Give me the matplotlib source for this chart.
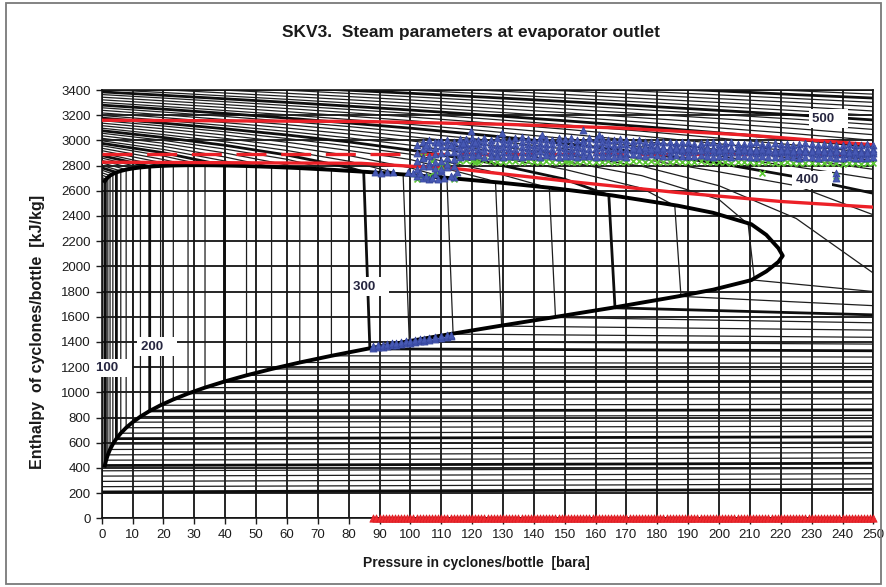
import numpy as np
import matplotlib
matplotlib.use("Agg")
import matplotlib.pyplot as plt
from matplotlib.patches import Rectangle

# ---------------- steam property data (pressure in bar, enthalpy in kJ/kg) ----------------
P_COLS = [0, 20, 40, 60, 80, 100, 125, 150, 175, 200, 225, 250]

iso_T = [100, 110, 120, 130, 140, 150, 160, 170, 180, 190, 200, 210, 220, 230, 240,
         250, 260, 270, 280, 290, 300, 310, 320, 330, 340, 350, 360, 370,
         380, 390, 400, 410, 420, 430, 440, 450, 460, 470, 480, 490, 500,
         510, 520, 530, 540, 550, 560, 570]

# superheated / supercritical enthalpy along each isotherm at P_COLS
sh_rows = [
    [2687], [2706], [2725], [2744], [2764], [2783], [2802], [2822], [2841], [2860],
    [2880], [2899],
    [2919, 2821], [2938, 2848], [2958, 2876], [2977, 2902],
    [2997, 2928, 2836], [3017, 2953, 2868],
    [3037, 2977, 2900, 2805], [3057, 3000, 2931, 2850],
    [3077, 3023, 2961, 2884, 2785], [3097, 3046, 2989, 2920, 2835],
    [3117, 3069, 3016, 2953, 2880, 2782],
    [3137, 3092, 3042, 2985, 2920, 2848, 2690],
    [3157, 3114, 3068, 3015, 2955, 2890, 2760],
    [3177, 3137, 3092, 3043, 2988, 2923, 2826, 2692],
    [3198, 3159, 3117, 3071, 3020, 2962, 2878, 2770, 2620],
    [3218, 3181, 3141, 3098, 3051, 2997, 2922, 2834, 2720, 2530],
    [3239, 3203, 3165, 3125, 3081, 3030, 2963, 2886, 2795, 2640, 2380, 1946],
    [3259, 3225, 3190, 3151, 3110, 3063, 3002, 2932, 2853, 2750, 2640, 2409],
    [3280, 3248, 3214, 3177, 3138, 3097, 3039, 2976, 2903, 2818, 2710, 2580],
    [3301, 3270, 3237, 3203, 3166, 3127, 3074, 3015, 2949, 2875, 2790, 2695],
    [3322, 3292, 3261, 3228, 3193, 3157, 3107, 3053, 2993, 2926, 2855, 2770],
    [3343, 3314, 3284, 3253, 3220, 3186, 3139, 3089, 3034, 2973, 2912, 2840],
    [3364, 3336, 3307, 3277, 3246, 3214, 3170, 3123, 3073, 3018, 2962, 2900],
    [3385, 3358, 3330, 3302, 3272, 3241, 3200, 3156, 3110, 3060, 3008, 2950],
    [3405, 3380, 3353, 3326, 3297, 3268, 3229, 3189, 3145, 3099, 3052, 3000],
    [3426, 3402, 3376, 3350, 3323, 3295, 3258, 3220, 3179, 3137, 3093, 3045],
    [3447, 3424, 3399, 3374, 3348, 3321, 3286, 3250, 3212, 3173, 3132, 3087],
    [3468, 3446, 3422, 3398, 3373, 3347, 3314, 3280, 3244, 3206, 3168, 3126],
    [3489, 3468, 3445, 3422, 3398, 3374, 3342, 3309, 3274, 3238, 3202, 3162],
    [3510, 3490, 3468, 3446, 3423, 3399, 3369, 3337, 3304, 3270, 3236, 3198],
    [3531, 3512, 3491, 3469, 3447, 3424, 3396, 3365, 3333, 3301, 3269, 3233],
    [3553, 3534, 3514, 3493, 3472, 3450, 3422, 3393, 3362, 3331, 3301, 3268],
    [3574, 3556, 3537, 3516, 3496, 3475, 3448, 3420, 3390, 3361, 3332, 3302],
    [3596, 3578, 3560, 3540, 3520, 3500, 3475, 3449, 3421, 3393, 3363, 3336],
    [3618, 3600, 3582, 3563, 3544, 3525, 3500, 3475, 3449, 3422, 3394, 3367],
    [3640, 3622, 3605, 3587, 3568, 3550, 3526, 3502, 3477, 3451, 3424, 3398],
]

# saturation data for 100..370 degC
sat_T = [100, 110, 120, 130, 140, 150, 160, 170, 180, 190, 200, 210, 220, 230,
         240, 250, 260, 270, 280, 290, 300, 310, 320, 330, 340, 350, 360, 370]
sat_p = [1.014, 1.434, 1.987, 2.703, 3.615, 4.762, 6.182, 7.922, 10.03, 12.55,
         15.55, 19.08, 23.20, 27.97, 33.47, 39.76, 46.92, 55.03, 64.17, 74.42,
         85.88, 98.65, 112.84, 128.58, 146.01, 165.29, 186.66, 210.44]
sat_hf = [419.2, 461.4, 503.8, 546.4, 589.2, 632.2, 675.5, 719.1, 763.1, 807.4,
          852.3, 897.6, 943.6, 990.2, 1037.6, 1085.8, 1135.0, 1185.3, 1236.9, 1290.0,
          1345.0, 1402.2, 1462.2, 1525.9, 1594.5, 1670.9, 1761.7, 1890.7]
sat_hg = [2675.6, 2691.1, 2705.9, 2720.1, 2733.4, 2745.9, 2757.4, 2767.9, 2777.2, 2785.3,
          2792.0, 2797.3, 2800.9, 2802.9, 2803.0, 2800.9, 2796.6, 2789.7, 2779.9, 2766.7,
          2749.6, 2727.9, 2700.6, 2666.0, 2621.8, 2563.6, 2481.5, 2334.5]
# compressed-liquid enthalpy at 250 bar
liq_h250 = [437, 479, 521, 563, 605, 647, 689, 731, 774, 817, 861, 905, 949, 994,
            1040, 1086, 1133, 1181, 1230, 1280, 1330, 1383, 1437, 1494, 1552, 1615, 1688, 1800]

# near-critical part of the saturation dome
near_T = [365, 372, 373.5, 373.95]
near_p = [198.1, 215.3, 219.2, 220.64]
near_hf = [1815, 1960, 2035, 2084.3]
near_hg = [2425, 2250, 2145, 2084.3]

# low-temperature liquid isotherms
low_T = [50, 60, 70, 80, 90]
low_hf = [209.3, 251.2, 293.1, 335.0, 377.0]
low_h250 = [230, 272, 313, 354, 396]

# limit lines
red_top_p = [0, 85, 130, 168, 208, 250]
red_top_h = [3160, 3150, 3128, 3098, 3044, 2965]
red_dash_p = [0, 250]
red_dash_h = [2888, 2888]
red_low_p = [0, 84, 100, 115, 155, 187, 220, 250]
red_low_h = [2827, 2818, 2795, 2775, 2665, 2585, 2515, 2470]

# isotherm labels
label_txt = ["100", "200", "300", "400", "500"]
label_p = [-1.8, 12.6, 81.4, 224.8, 230.1]
label_h = [1194, 1363, 1840, 2687, 3172]

# ---------------- measured operating points ----------------
band_p = [102, 104, 106, 108, 110, 112, 114, 116, 118, 120, 122, 124, 126, 128, 130,
          132, 134, 136, 138, 140, 142, 144, 146, 148, 150, 152, 154, 156, 158, 160,
          162, 164, 166, 168, 170, 172, 174, 176, 178, 180, 182, 184, 186, 188, 190,
          192, 194, 196, 198, 200, 202, 204, 206, 208, 210, 212, 214, 216, 218, 220,
          222, 224, 226, 228, 230, 232, 234, 236, 238, 240, 242, 244, 246, 248, 250]
blue_r1 = [2960, 2990, 3000, 2985, 2995, 3005, 2990, 3010,
           3010, 3020, 3000, 3015, 3005, 3020, 3010, 3000, 3015, 3025, 3010, 3005, 3020, 3010,
           3000, 3015, 3010, 3020, 3005, 3000, 3015, 3010, 3020, 3005, 3000, 3010, 3005,
           2995, 3000, 2990, 2985, 2995, 2990, 2985, 2980, 2990, 2985, 2975, 2980, 2990, 2985,
           2975, 2980, 2985, 2975, 2970, 2980, 2985, 2975, 2970, 2980, 2975, 2970, 2965, 2975,
           2980, 2970, 2965, 2975, 2970, 2965, 2960, 2970, 2965, 2960, 2970, 2965]
blue_r2 = [2900, 2930, 2950, 2940, 2955, 2960, 2945, 2965,
           2975, 2980, 2970, 2985, 2975, 2965, 2980, 2975, 2970, 2985, 2975, 2965, 2980, 2970,
           2975, 2985, 2970, 2975, 2965, 2980, 2975, 2970, 2985, 2970, 2965, 2975, 2970,
           2960, 2955, 2950, 2960, 2955, 2950, 2945, 2955, 2950, 2945, 2950, 2955, 2945, 2940,
           2950, 2945, 2940, 2945, 2950, 2940, 2935, 2945, 2940, 2935, 2940, 2945, 2935, 2930,
           2940, 2935, 2930, 2935, 2940, 2930, 2925, 2935, 2930, 2925, 2930, 2935]
blue_r3 = [2840, 2870, 2880, 2890, 2900, 2905, 2910, 2930,
           2940, 2945, 2935, 2950, 2940, 2935, 2945, 2940, 2930, 2945, 2940, 2935, 2950, 2940,
           2935, 2945, 2940, 2935, 2945, 2940, 2930, 2940, 2945, 2935, 2940, 2930, 2935,
           2925, 2920, 2915, 2925, 2920, 2915, 2910, 2920, 2915, 2910, 2915, 2920, 2910, 2905,
           2915, 2910, 2905, 2910, 2915, 2905, 2900, 2910, 2905, 2900, 2905, 2910, 2900, 2895,
           2905, 2900, 2895, 2900, 2905, 2895, 2890, 2900, 2895, 2890, 2895, 2900]
blue_r4 = [2770, 2800, 2820, 2830, 2840, 2860, 2850, 2890,
           2905, 2910, 2900, 2915, 2905, 2900, 2910, 2905, 2895, 2910, 2905, 2900, 2915, 2905,
           2900, 2910, 2905, 2900, 2910, 2905, 2895, 2905, 2910, 2900, 2905, 2895, 2900,
           2890, 2885, 2880, 2890, 2885, 2880, 2875, 2885, 2880, 2875, 2880, 2885, 2875, 2870,
           2880, 2875, 2870, 2875, 2880, 2870, 2868, 2875, 2870, 2865, 2870, 2875, 2865, 2862,
           2870, 2865, 2862, 2865, 2870, 2862, 2858, 2865, 2862, 2858, 2862, 2865]
blue_r5 = [2720, 2700, 2690, 2730, 2760, 2790, 2710, 2870,
           2880, 2875, 2885, 2870, 2880, 2875, 2870, 2880, 2875, 2865, 2880, 2875, 2870, 2885,
           2875, 2870, 2880, 2875, 2870, 2880, 2875, 2865, 2875, 2880, 2870, 2875, 2870,
           2940, 2935, 2945, 2930, 2938, 2942, 2930, 2936, 2928, 2940, 2932, 2926, 2938, 2930,
           2924, 2934, 2928, 2922, 2930, 2926, 2920, 2928, 2922, 2918, 2926, 2920, 2915, 2924,
           2918, 2912, 2920, 2916, 2910, 2918, 2912, 2908, 2915, 2910, 2906, 2912]
green_r = [2690, 2700, 2720, 2760, 2800, 2830, 2690, 2840,
           2845, 2838, 2832, 2842, 2838, 2832, 2830, 2840, 2835, 2830, 2840, 2832, 2828, 2836,
           2832, 2828, 2836, 2830, 2828, 2834, 2830, 2825, 2832, 2834, 2828, 2830, 2828,
           2840, 2834, 2830, 2838, 2832, 2828, 2830, 2836, 2832, 2828, 2830, 2834, 2828, 2825,
           2830, 2828, 2822, 2828, 2830, 2825, 2822, 2828, 2825, 2820, 2822, 2828, 2820, 2818,
           2822, 2820, 2818, 2820, 2822, 2818, 2815, 2820, 2818, 2815, 2818, 2820]

blue_x_p = [88.6, 90.5, 92.4, 94.4, 99.2, 101.0, 103, 105, 107, 109, 111, 113, 115,
            104, 106, 108, 110, 112, 114, 105, 109, 113, 117, 121,
            119.8, 129.6, 142.5, 156.0, 161.0, 238.0, 238.0]
blue_x_h = [2748, 2745, 2750, 2746, 2748, 2744, 2740, 2720, 2700, 2690, 2700, 2720, 2750,
            2860, 2800, 2780, 2770, 2810, 2800, 2960, 2990, 2960, 2980, 2990,
            3071, 3058, 3044, 3084, 3044, 2740, 2705]
green_x_p = [214, 238, 151, 121, 104, 107]
green_x_h = [2740, 2715, 2835, 2830, 2880, 2840]

# points on the saturated-liquid side
liq_pt_p = [88, 89.5, 91, 92.5, 94, 95.5, 97, 98.5, 100, 101.5, 103, 104.5, 106, 108, 110, 112, 113]
liq_pt_h1 = [1350, 1356, 1362, 1368, 1372, 1378, 1384, 1388, 1394, 1400, 1405, 1410, 1416, 1424, 1432, 1440, 1448]
liq_pt_h2 = [1368, 1372, 1378, 1384, 1390, 1394, 1400, 1406, 1410, 1414, 1420, 1426, 1430, 1438, 1444, 1452, 1458]

# points with no enthalpy reading
zero_p = [88, 89, 90, 91, 92, 93, 94, 95, 96, 97, 98, 99, 100, 101, 102, 103, 104, 105, 106, 107,
          108, 109, 110, 111, 112, 113, 114, 115, 116, 117, 118, 119, 120, 121, 122, 123, 124, 125, 126, 127,
          128, 129, 130, 131, 132, 133, 134, 135, 136, 137, 138, 139, 140, 141, 142, 143, 144, 145, 146, 147,
          148, 149, 150, 151, 152, 153, 154, 155, 156, 157, 158, 159, 160, 161, 162, 163, 164, 165, 166, 167,
          168, 169, 170, 171, 172, 173, 174, 175, 176, 177, 178, 179, 180, 181, 182, 183, 184, 185, 186, 187,
          188, 189, 190, 191, 192, 193, 194, 195, 196, 197, 198, 199, 200, 201, 202, 203, 204, 205, 206, 207,
          208, 209, 210, 211, 212, 213, 214, 215, 216, 217, 218, 219, 220, 221, 222, 223, 224, 225, 226, 227,
          228, 229, 230, 231, 232, 233, 234, 235, 236, 237, 238, 239, 240, 241, 242, 243, 244, 245, 246, 247,
          248, 249, 250]
zero_h = [0] * len(zero_p)

# ---------------- figure ----------------
W, H = 886, 587
fig = plt.figure(figsize=(W / 100, H / 100), dpi=100)
ax = fig.add_axes([101.7 / W, 1 - 518.3 / H, (873.4 - 101.7) / W, (518.3 - 90) / H])

ax.set_xlim(0, 250)
ax.set_ylim(0, 3400)
ax.set_xticks(np.arange(0, 251, 10))
ax.set_yticks(np.arange(0, 3401, 200))
ax.grid(True, color="#141414", lw=1.3)
ax.set_axisbelow(True)
for s in ax.spines.values():
    s.set_color("#141414")
    s.set_linewidth(1.2)
ax.tick_params(direction="out", length=4, width=1, labelsize=9.5, pad=4, colors="#1c1c1c")
for lab in ax.get_xticklabels() + ax.get_yticklabels():
    lab.set_family(["Liberation Sans", "DejaVu Sans"])

thin = dict(color="#1e1e1e", lw=0.9, zorder=2, solid_capstyle="butt")
thick = dict(color="#0e0e0e", lw=2.0, zorder=2.2, solid_capstyle="butt")

# low-temperature liquid isotherms
for T, h0, h1 in zip(low_T, low_hf, low_h250):
    ax.plot([0, 250], [h0, h1], **(thick if T % 50 == 0 else thin))

# full isotherms: vapour -> two-phase -> liquid
for T, row in zip(iso_T, sh_rows):
    ps = list(P_COLS[:len(row)])
    hs = list(row)
    if T in sat_T:
        k = sat_T.index(T)
        tilt = 1.0 if T >= 300 else 0.0
        ps += [sat_p[k] - tilt, sat_p[k] + tilt, 250]
        hs += [sat_hg[k], sat_hf[k], liq_h250[k]]
    ax.plot(ps, hs, **(thick if T % 50 == 0 else thin))

# saturation dome
dome = sorted(zip(sat_T + near_T, sat_p + near_p, sat_hf + near_hf, sat_hg + near_hg))
d_p = [d[1] for d in dome]
d_hf = [d[2] for d in dome]
d_hg = [d[3] for d in dome]
ax.plot(d_p + d_p[::-1], d_hf + d_hg[::-1], color="black", lw=2.8, zorder=3,
        solid_joinstyle="round")

# limit lines
red = "#ec2027"
ax.plot(red_top_p, red_top_h, color=red, lw=2.4, zorder=4)
ax.plot(red_low_p, red_low_h, color=red, lw=2.4, zorder=4)
ax.plot(red_dash_p, red_dash_h, color=red, lw=2.4, zorder=4, linestyle=(0, (9.0, 4.4)))

# measured points
bp = np.array(band_p * 5 + blue_x_p + liq_pt_p * 2, dtype=float)
bh = np.array(blue_r1 + blue_r2 + blue_r3 + blue_r4 + blue_r5 + blue_x_h + liq_pt_h1 + liq_pt_h2,
              dtype=float)
gp = np.array(band_p + green_x_p, dtype=float)
gh = np.array(green_r + green_x_h, dtype=float)

ax.scatter(gp, gh, marker="x", s=18, color="#5cc834", linewidths=1.2, zorder=5, clip_on=False)
ax.scatter(bp, bh, marker="^", s=26, facecolor="#4759b4", edgecolor="#34449a",
           linewidths=0.5, zorder=6, clip_on=False)
ax.scatter(zero_p, zero_h, marker="^", s=28, facecolor="#ee2a30", edgecolor="#dc1a20",
           linewidths=0.5, zorder=6, clip_on=False)

# isotherm labels
for txt, p, h in zip(label_txt, label_p, label_h):
    ax.text(p, h, txt + "   ", ha="left", va="center", fontsize=9.5, fontweight="bold",
            color="#262640", family=["Liberation Sans", "DejaVu Sans"], zorder=8,
            bbox=dict(boxstyle="square,pad=0.25", fc="white", ec="none"))

# titles
fig.text(471 / W, 1 - 33 / H, "SKV3.  Steam parameters at evaporator outlet",
         ha="center", va="center", fontsize=12.5, fontweight="bold",
         family=["Liberation Sans", "DejaVu Sans"], color="#1a1a1a")
fig.text(476 / W, 1 - 563 / H, "Pressure in cyclones/bottle  [bara]",
         ha="center", va="center", fontsize=10, fontweight="bold",
         family=["Liberation Sans", "DejaVu Sans"], color="#1a1a1a")
fig.text(38 / W, 1 - 332 / H, "Enthalpy  of cyclones/bottle  [kJ/kg]",
         ha="center", va="center", rotation=90, fontsize=11.5, fontweight="bold",
         family=["Liberation Sans", "DejaVu Sans"], color="#1a1a1a")

# chart frame
fig.add_artist(Rectangle((6 / W, 3 / H), (881 - 6) / W, (584 - 3) / H,
                         transform=fig.transFigure, fill=False, ec="#7a7a7a", lw=1.3))

fig.savefig("out.png", dpi=100)
